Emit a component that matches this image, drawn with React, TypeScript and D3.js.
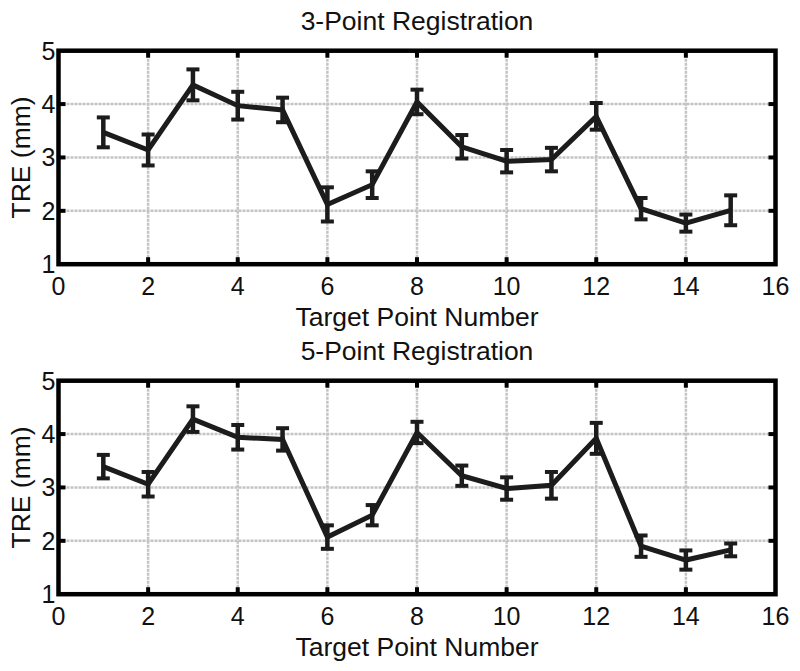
import React from "react";
import * as d3 from "d3";

const targetPoints = [1, 2, 3, 4, 5, 6, 7, 8, 9, 10, 11, 12, 13, 14, 15];
const tre3 = [3.47, 3.14, 4.36, 3.97, 3.89, 2.12, 2.49, 4.04, 3.2, 2.93, 2.96, 3.77, 2.04, 1.77, 2.01];
const err3 = [0.28, 0.29, 0.29, 0.26, 0.23, 0.32, 0.25, 0.23, 0.22, 0.21, 0.22, 0.25, 0.2, 0.16, 0.28];
const tre5 = [3.39, 3.06, 4.28, 3.94, 3.9, 2.07, 2.48, 4.03, 3.22, 2.98, 3.04, 3.92, 1.9, 1.64, 1.83];
const err5 = [0.22, 0.23, 0.24, 0.23, 0.21, 0.22, 0.19, 0.2, 0.19, 0.21, 0.25, 0.29, 0.2, 0.18, 0.12];
const xTicks = [0, 2, 4, 6, 8, 10, 12, 14, 16];
const yTicks = [1, 2, 3, 4, 5];
const titles = ["3-Point Registration", "5-Point Registration"];
const xLabel = "Target Point Number";
const yLabel = "TRE (mm)";

const FONT = "'Liberation Sans', Arial, Helvetica, sans-serif";
const INK = "#1c1c1c";

type PanelProps = { top: number; values: number[]; errs: number[]; title: string };

function Panel({ top, values, errs, title }: PanelProps) {
  const left = 58.5;
  const right = 775.5;
  const height = 213.5;
  const x = d3.scaleLinear().domain([0, 16]).range([left, right]);
  const y = d3.scaleLinear().domain([1, 5]).range([top + height, top]);
  const line = d3
    .line<number>()
    .x((_, i) => x(targetPoints[i]))
    .y((d) => y(d));
  const cx = (left + right) / 2;
  const capW = 6.5;
  return (
    <g>
      <text x={cx} y={top - 21} textAnchor="middle" fontFamily={FONT} fontSize={26.5} fill="#111">
        {title}
      </text>
      {/* grid */}
      {xTicks.slice(1, -1).map((t) => (
        <line key={"gx" + t} x1={x(t)} x2={x(t)} y1={top} y2={top + height} stroke="#c4c4c4" strokeWidth={2.5} strokeDasharray="3,1" />
      ))}
      {yTicks.slice(1, -1).map((t) => (
        <line key={"gy" + t} x1={left} x2={right} y1={y(t)} y2={y(t)} stroke="#c4c4c4" strokeWidth={2.5} strokeDasharray="3,1" />
      ))}
      {/* ticks */}
      {xTicks.slice(1, -1).map((t) => (
        <g key={"tx" + t}>
          <line x1={x(t)} x2={x(t)} y1={top} y2={top + 7} stroke="#000" strokeWidth={4} />
          <line x1={x(t)} x2={x(t)} y1={top + height} y2={top + height - 7} stroke="#000" strokeWidth={4} />
        </g>
      ))}
      {yTicks.slice(1, -1).map((t) => (
        <g key={"ty" + t}>
          <line x1={left} x2={left + 7} y1={y(t)} y2={y(t)} stroke="#000" strokeWidth={4} />
          <line x1={right} x2={right - 7} y1={y(t)} y2={y(t)} stroke="#000" strokeWidth={4} />
        </g>
      ))}
      {/* data line */}
      <path d={line(values) || ""} fill="none" stroke={INK} strokeWidth={5} strokeLinejoin="miter" />
      {/* error bars */}
      {values.map((v, i) => {
        const px = x(targetPoints[i]);
        const y0 = y(v - errs[i]);
        const y1 = y(v + errs[i]);
        return (
          <g key={"e" + i} stroke={INK}>
            <line x1={px} x2={px} y1={y0} y2={y1} strokeWidth={4.5} />
            <line x1={px - capW} x2={px + capW} y1={y0} y2={y0} strokeWidth={4} />
            <line x1={px - capW} x2={px + capW} y1={y1} y2={y1} strokeWidth={4} />
          </g>
        );
      })}
      {/* frame */}
      <rect x={left} y={top} width={right - left} height={height} fill="none" stroke="#000" strokeWidth={4.5} />
      {/* tick labels */}
      {xTicks.map((t) => (
        <text key={"lx" + t} x={x(t)} y={top + height + 31} textAnchor="middle" fontFamily={FONT} fontSize={25} fill="#111">
          {t}
        </text>
      ))}
      {yTicks.map((t) => (
        <text key={"ly" + t} x={left - 3} y={y(t) + 9} textAnchor="end" fontFamily={FONT} fontSize={25} fill="#111">
          {t}
        </text>
      ))}
      <text x={cx} y={top + height + 62} textAnchor="middle" fontFamily={FONT} fontSize={26.5} fill="#111">
        {xLabel}
      </text>
      <text
        transform={`translate(${30},${top + height / 2}) rotate(-90)`}
        textAnchor="middle"
        fontFamily={FONT}
        fontSize={26.5}
        fill="#111"
      >
        {yLabel}
      </text>
    </g>
  );
}

export default function App() {
  return (
    <svg width={800} height={671} style={{ position: "absolute", left: 0, top: 0, background: "#fff" }}>
      <rect width={800} height={671} fill="#fff" />
      <Panel top={50.7} values={tre3} errs={err3} title={titles[0]} />
      <Panel top={380.7} values={tre5} errs={err5} title={titles[1]} />
    </svg>
  );
}
